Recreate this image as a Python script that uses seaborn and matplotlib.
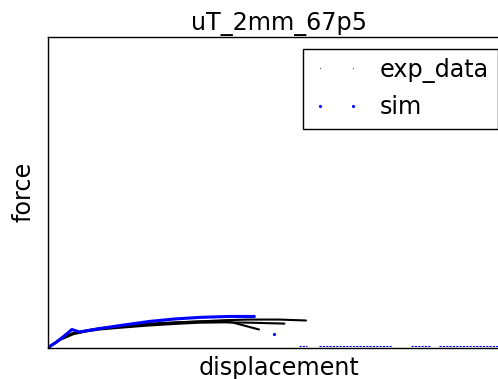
import matplotlib
matplotlib.use("Agg")
import matplotlib.pyplot as plt
from matplotlib.lines import Line2D
import pandas as pd
import seaborn as sns

# Experimental force-displacement curves (three specimens)
exp1_disp = [0.0, 0.08, 0.16, 0.32, 0.50, 0.67, 1.00, 1.32, 1.65, 1.97, 2.30, 2.61, 3.00, 3.35]
exp1_force = [0.0, 0.12, 0.26, 0.45, 0.54, 0.61, 0.68, 0.74, 0.80, 0.84, 0.88, 0.90, 0.90, 0.87]
exp2_disp = [0.0, 0.08, 0.16, 0.33, 0.50, 0.67, 1.00, 1.32, 1.65, 1.97, 2.30, 2.61, 3.07]
exp2_force = [0.0, 0.12, 0.25, 0.43, 0.52, 0.58, 0.65, 0.71, 0.76, 0.80, 0.81, 0.80, 0.77]
exp3_disp = [0.0, 0.08, 0.16, 0.32, 0.50, 0.67, 1.00, 1.32, 1.65, 1.97, 2.20, 2.39, 2.74]
exp3_force = [0.0, 0.13, 0.27, 0.46, 0.55, 0.62, 0.70, 0.77, 0.81, 0.84, 0.84, 0.81, 0.58]

# Simulation: loading branch, one post-peak point, and the broken (near-zero) tail
sim_disp = [0.0, 0.10, 0.20, 0.31, 0.41, 0.67, 1.00, 1.32, 1.65, 1.97, 2.35, 2.68]
sim_force = [0.0, 0.16, 0.35, 0.58, 0.50, 0.61, 0.73, 0.84, 0.92, 0.97, 1.00, 1.00]
sim_drop_disp = [2.94]
sim_drop_force = [0.45]
tail_seg = [0, 0, 1, 1, 2, 2, 3, 3]
tail_disp = [3.26, 3.36, 3.52, 4.47, 4.72, 4.98, 5.08, 6.10]
tail_force = [0.04, 0.04, 0.04, 0.04, 0.04, 0.04, 0.04, 0.04]

exp_df = pd.concat([
    pd.DataFrame({"disp": d, "force": f, "run": i})
    for i, (d, f) in enumerate([(exp1_disp, exp1_force),
                                (exp2_disp, exp2_force),
                                (exp3_disp, exp3_force)])
])
sim_df = pd.DataFrame({"disp": sim_disp, "force": sim_force})
tail_df = pd.DataFrame({"disp": tail_disp, "force": tail_force, "seg": tail_seg})

sns.set_style("white")
plt.rcParams["font.family"] = ["DejaVu Sans"]
plt.rcParams["text.color"] = "black"
plt.rcParams["axes.labelcolor"] = "black"
FS = 17.2

fig = plt.figure(figsize=(4.98, 3.79), dpi=100)
ax = fig.add_axes([0.0964, 0.0831, 0.9277, 0.8193])

sns.lineplot(data=exp_df, x="disp", y="force", units="run", estimator=None,
             sort=False, color="black", lw=1.5, ax=ax, legend=False)
sns.lineplot(data=sim_df, x="disp", y="force", estimator=None, sort=False,
             color="#0000ff", lw=2.2, ax=ax, legend=False)
sns.scatterplot(x=sim_drop_disp, y=sim_drop_force, color="#0000ff", s=5,
                linewidth=0, ax=ax, legend=False)
sns.lineplot(data=tail_df, x="disp", y="force", units="seg", estimator=None,
             sort=False, color="#0000ff", lw=0.8, linestyle=(0, (2, 1)),
             ax=ax, legend=False)

ax.set_xlim(0, 6)
ax.set_ylim(0, 10)
ax.set_xticks([])
ax.set_yticks([])
for sp in ax.spines.values():
    sp.set_color("black")
    sp.set_linewidth(1.0)
    sp.set_zorder(5)

ax.set_title("uT_2mm_67p5", fontsize=FS, pad=5, color="black")
ax.set_xlabel("displacement", fontsize=FS, labelpad=6, color="black")
ax.set_ylabel("force", fontsize=FS, labelpad=9, color="black")

handles = [
    Line2D([], [], color="#444444", marker=",", linestyle="None"),
    Line2D([], [], color="#0000ff", marker=".", markersize=2.5, linestyle="None"),
]
leg = ax.legend(handles, ["exp_data", "sim"], loc="upper right", numpoints=2,
                fancybox=False, frameon=True, framealpha=1, edgecolor="black",
                borderpad=0.4, labelspacing=0.5, handlelength=2.0,
                handletextpad=0.8, borderaxespad=0.5, fontsize=FS)
leg.get_frame().set_linewidth(1.0)
for t in leg.get_texts():
    t.set_color("black")

fig.savefig("out.png", dpi=100)
